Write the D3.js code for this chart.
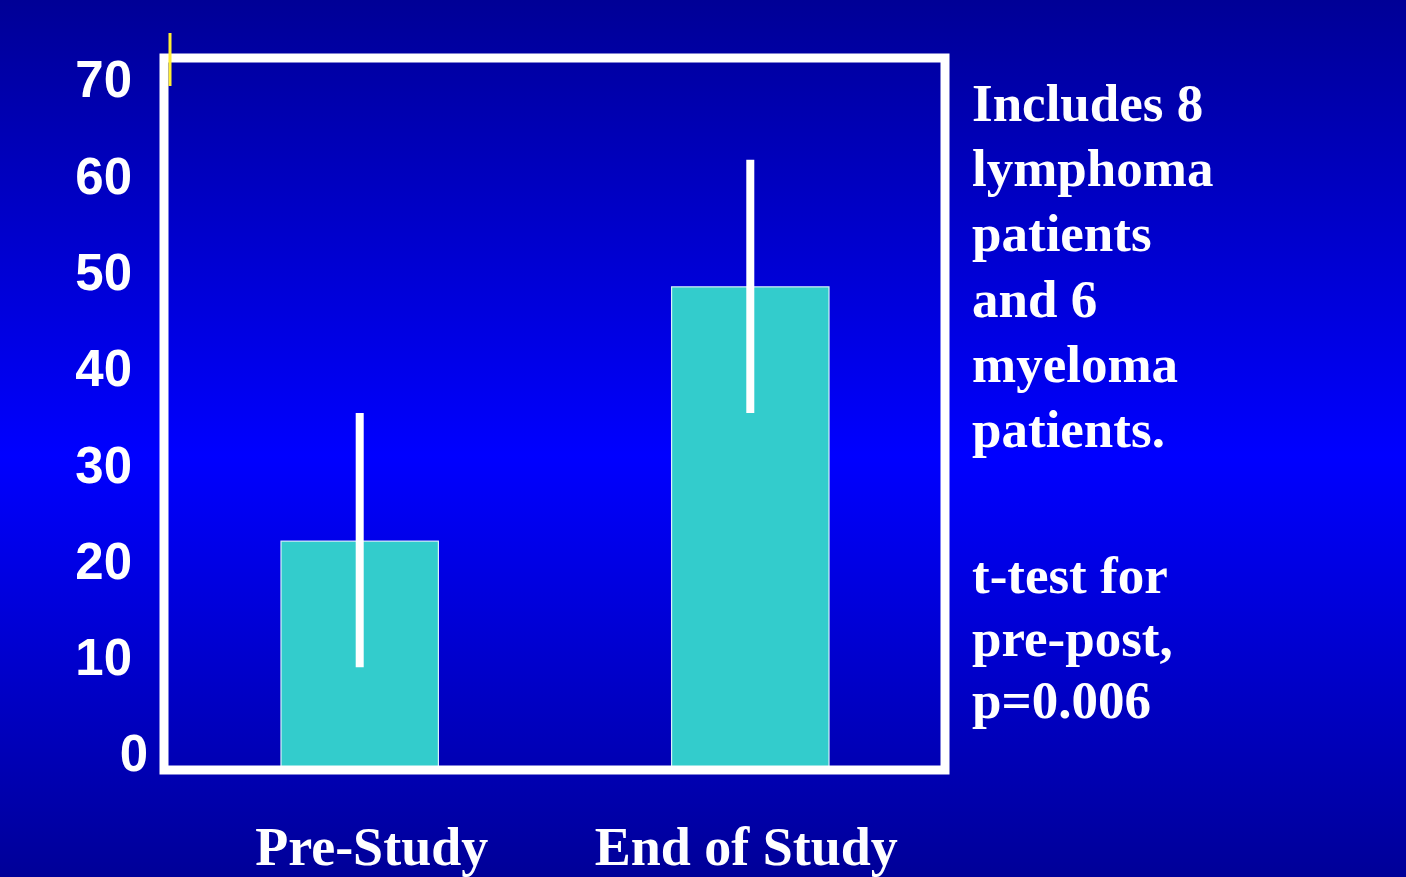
<!DOCTYPE html>
<html><head><meta charset="utf-8">
<script src="https://cdn.jsdelivr.net/npm/d3@7"></script>
<style>html,body{margin:0;padding:0;overflow:hidden;background:#0000cc}</style>
</head><body>
<svg id="c" width="1406" height="877"></svg>
<script>
const categories = ["Pre-Study", "End of Study"];
const means = [22.5, 47.5];
const errLow = [10.1, 35.1];
const errHigh = [35.1, 60.0];
const yTicks = [0, 10, 20, 30, 40, 50, 60, 70];
const noteLines1 = ["Includes 8", "lymphoma", "patients", "and 6", "myeloma", "patients."];
const noteLines2 = ["t-test for", "pre-post,", "p=0.006"];

(function(){
const svg = d3.select("#c");
const defs = svg.append("defs");
const grad = defs.append("linearGradient").attr("id","bg").attr("x1",0).attr("y1",0).attr("x2",0).attr("y2",1);
grad.append("stop").attr("offset","0%").attr("stop-color","#000096");
grad.append("stop").attr("offset","52%").attr("stop-color","#0000ff");
grad.append("stop").attr("offset","100%").attr("stop-color","#000098");
svg.append("rect").attr("width",1406).attr("height",877).attr("fill","url(#bg)");

const pL = 164, pR = 945, pT = 58, pB = 770;
const y = d3.scaleLinear().domain([0,70]).range([pB, pT]);
const yLab = d3.scaleLinear().domain([0,70]).range([753, 79]);
const x = d3.scaleBand().domain(categories).range([165, 945]).paddingInner(0.597).paddingOuter(0.297);

svg.selectAll("rect.bar").data(categories).join("rect").attr("class","bar")
  .attr("x", d => x(d)).attr("width", x.bandwidth())
  .attr("y", (d,i) => y(means[i])).attr("height", (d,i) => y(0) - y(means[i]))
  .attr("fill","#33cccc").attr("stroke","#d8f0f8").attr("stroke-width",1.2);

svg.selectAll("line.err").data(categories).join("line").attr("class","err")
  .attr("x1", d => x(d) + x.bandwidth()/2).attr("x2", d => x(d) + x.bandwidth()/2)
  .attr("y1", (d,i) => y(errHigh[i])).attr("y2", (d,i) => y(errLow[i]))
  .attr("stroke","#ffffff").attr("stroke-width",8);

svg.append("rect").attr("x",pL).attr("y",pT).attr("width",pR-pL).attr("height",pB-pT)
  .attr("fill","none").attr("stroke","#ffffff").attr("stroke-width",9);

svg.append("line").attr("x1",170).attr("x2",170).attr("y1",33).attr("y2",86)
  .attr("stroke","#ffee33").attr("stroke-width",3);

svg.selectAll("text.yl").data(yTicks).join("text").attr("class","yl")
  .attr("x", d => d === 0 ? 148 : 132).attr("y", d => yLab(d))
  .attr("dy","0.36em").attr("text-anchor","end")
  .attr("font-family","'Liberation Sans', Arial, sans-serif").attr("font-weight","bold")
  .attr("font-size",51).attr("fill","#ffffff").text(d => d);

svg.selectAll("text.xl").data(categories).join("text").attr("class","xl")
  .attr("x", (d,i) => x(d) + x.bandwidth()/2 + (i===0 ? 12 : -4)).attr("y", 865)
  .attr("text-anchor","middle")
  .attr("font-family","'Liberation Serif', 'Times New Roman', serif").attr("font-weight","bold")
  .attr("font-size",54).attr("fill","#ffffff").text(d => d);

const noteFont = "'Liberation Serif', 'Times New Roman', serif";
svg.selectAll("text.n1").data(noteLines1).join("text").attr("class","n1")
  .attr("x",972).attr("y",(d,i) => 121 + i*65.2)
  .attr("font-family",noteFont).attr("font-weight","bold").attr("font-size",53)
  .attr("fill","#ffffff").text(d => d);
svg.selectAll("text.n2").data(noteLines2).join("text").attr("class","n2")
  .attr("x",972).attr("y",(d,i) => 593 + i*62.5)
  .attr("font-family",noteFont).attr("font-weight","bold").attr("font-size",53)
  .attr("fill","#ffffff").text(d => d);
})();
</script>
</body></html>
